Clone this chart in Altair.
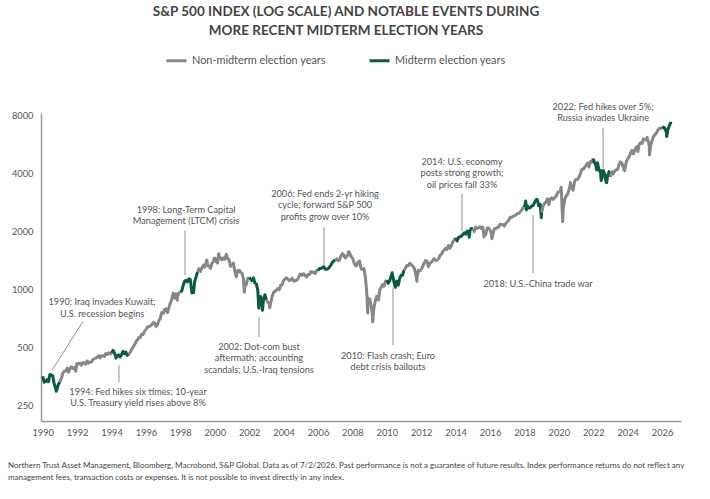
import altair as alt
import pandas as pd

# ---------------- data (S&P 500 month-end closes) ----------------
start_close = 353.4  # end of 1989

y1990 = [329.1, 331.9, 339.9, 330.8, 361.2, 358.0, 356.2, 322.6, 306.1, 304.0, 322.2, 330.2]
y1991 = [343.9, 367.1, 375.2, 375.3, 389.8, 371.2, 387.8, 395.4, 387.9, 392.5, 375.2, 417.1]
y1992 = [408.8, 412.7, 403.7, 414.9, 415.4, 408.1, 424.2, 414.0, 417.8, 418.7, 431.4, 435.7]
y1993 = [438.8, 443.4, 451.7, 440.2, 450.2, 451.0, 448.1, 463.6, 458.9, 467.8, 461.8, 466.5]
y1994 = [481.6, 467.1, 445.8, 450.9, 456.5, 444.3, 458.3, 475.5, 462.7, 472.4, 454.0, 459.3]
y1995 = [470.4, 487.4, 500.7, 514.7, 533.4, 544.8, 562.1, 561.9, 584.4, 581.5, 605.4, 615.9]
y1996 = [636.0, 640.4, 645.5, 654.2, 669.1, 670.6, 639.9, 652.0, 687.3, 705.3, 757.0, 740.7]
y1997 = [786.2, 790.8, 757.1, 801.3, 848.3, 885.1, 954.3, 899.5, 947.3, 914.6, 955.4, 970.4]
y1998 = [980.3, 1049.3, 1101.8, 1111.8, 1090.8, 1133.8, 1120.7, 957.3, 1017.0, 1098.7, 1163.6, 1229.2]
y1999 = [1279.6, 1238.3, 1286.4, 1335.2, 1301.8, 1372.7, 1328.7, 1320.4, 1282.7, 1362.9, 1388.9, 1469.3]
y2000 = [1394.5, 1366.4, 1498.6, 1452.4, 1420.6, 1454.6, 1430.8, 1517.7, 1436.5, 1429.4, 1315.2, 1320.3]
y2001 = [1366.0, 1239.9, 1160.3, 1249.5, 1255.8, 1224.4, 1211.2, 1133.6, 1040.9, 1059.8, 1139.5, 1148.1]
y2002 = [1130.2, 1106.7, 1147.4, 1076.9, 1067.1, 989.8, 911.6, 916.1, 815.3, 885.8, 936.3, 879.8]
y2003 = [855.7, 841.2, 848.2, 916.9, 963.6, 974.5, 990.3, 1008.0, 996.0, 1050.7, 1058.2, 1111.9]
y2004 = [1131.1, 1144.9, 1126.2, 1107.3, 1120.7, 1140.8, 1101.7, 1104.2, 1114.6, 1130.2, 1173.8, 1211.9]
y2005 = [1181.3, 1203.6, 1180.6, 1156.9, 1191.5, 1191.3, 1234.2, 1220.3, 1228.8, 1207.0, 1249.5, 1248.3]
y2006 = [1280.1, 1280.7, 1294.8, 1310.6, 1270.1, 1270.2, 1276.7, 1303.8, 1335.9, 1377.9, 1400.6, 1418.3]
y2007 = [1438.2, 1406.8, 1420.9, 1482.4, 1530.6, 1503.4, 1455.3, 1474.0, 1526.8, 1549.4, 1481.1, 1468.4]
y2008 = [1378.6, 1330.6, 1322.7, 1385.6, 1400.4, 1280.0, 1267.4, 1282.8, 1166.4, 968.8, 896.2, 903.3]
y2009 = [825.9, 735.1, 797.9, 872.8, 919.1, 919.3, 987.5, 1020.6, 1057.1, 1036.2, 1095.6, 1115.1]
y2010 = [1073.9, 1104.5, 1169.4, 1186.7, 1089.4, 1030.7, 1101.6, 1049.3, 1141.2, 1183.3, 1180.6, 1257.6]
y2011 = [1286.1, 1327.2, 1325.8, 1363.6, 1345.2, 1320.6, 1292.3, 1218.9, 1131.4, 1253.3, 1247.0, 1257.6]
y2012 = [1312.4, 1365.7, 1408.5, 1397.9, 1310.3, 1362.2, 1379.3, 1406.6, 1440.7, 1412.2, 1416.2, 1426.2]
y2013 = [1498.1, 1514.7, 1569.2, 1597.6, 1630.7, 1606.3, 1685.7, 1633.0, 1681.6, 1756.5, 1805.8, 1848.4]
y2014 = [1782.6, 1859.5, 1872.3, 1884.0, 1923.6, 1960.2, 1930.7, 2003.4, 1972.3, 2018.1, 2067.6, 2058.9]
y2015 = [1995.0, 2104.5, 2067.9, 2085.5, 2107.4, 2063.1, 2103.8, 1972.2, 1920.0, 2079.4, 2080.4, 2043.9]
y2016 = [1940.2, 1932.2, 2059.7, 2065.3, 2097.0, 2098.9, 2173.6, 2171.0, 2168.3, 2126.2, 2198.8, 2238.8]
y2017 = [2278.9, 2363.6, 2362.7, 2384.2, 2411.8, 2423.4, 2470.3, 2471.7, 2519.4, 2575.3, 2647.6, 2673.6]
y2018 = [2823.8, 2713.8, 2640.9, 2648.1, 2705.3, 2718.4, 2816.3, 2901.5, 2914.0, 2711.7, 2760.2, 2506.9]
y2019 = [2704.1, 2784.5, 2834.4, 2945.8, 2752.1, 2941.8, 2980.4, 2926.5, 2976.7, 3037.6, 3141.0, 3230.8]
y2020 = [3225.5, 2954.2, 2584.6, 2912.4, 3044.3, 3100.3, 3271.1, 3500.3, 3363.0, 3270.0, 3621.6, 3756.1]
y2021 = [3714.2, 3811.2, 3972.9, 4181.2, 4204.1, 4297.5, 4395.3, 4522.7, 4307.5, 4605.4, 4567.0, 4766.2]
y2022 = [4515.6, 4373.9, 4530.4, 4131.9, 4132.2, 3785.4, 4130.3, 3955.0, 3585.6, 3872.0, 4080.1, 3839.5]
y2023 = [4076.6, 3970.2, 4109.3, 4169.5, 4179.8, 4450.4, 4589.0, 4507.7, 4288.1, 4193.8, 4567.8, 4769.8]
y2024 = [4845.7, 5096.3, 5254.4, 5035.7, 5277.5, 5460.5, 5522.3, 5648.4, 5762.5, 5705.5, 6032.4, 5881.6]
y2025 = [6040.5, 5954.5, 5611.9, 5569.1, 5911.7, 6205.0, 6339.4, 6460.3, 6688.5, 6840.0, 6849.0, 6845.0]
y2026 = [6940.0, 6850.0, 6500.0, 6700.0, 7050.0, 7300.0]

# intra-month extremes (decimal year, value)
extreme_dates = [1990.78, 1994.09, 1994.26, 1997.82, 1998.77, 1999.54, 2000.23, 2000.67,
                 2001.72, 2002.56, 2002.77, 2003.19, 2007.77, 2008.89, 2009.18, 2009.52,
                 2010.31, 2010.50, 2011.75, 2014.79, 2015.65, 2016.11, 2018.07, 2018.11,
                 2018.72, 2018.98, 2020.13, 2020.22, 2020.67, 2022.18, 2022.46, 2022.78,
                 2023.82, 2024.59, 2025.13, 2025.27, 2026.27, 2026.50]
extreme_values = [295.5, 482.0, 438.9, 877.0, 959.4, 1418.8, 1527.5, 1520.8,
                  965.8, 797.7, 776.8, 800.7, 1565.2, 752.4, 676.5, 879.1,
                  1217.3, 1022.6, 1099.2, 1862.5, 1867.6, 1829.1, 2872.9, 2581.0,
                  2930.8, 2351.1, 3386.2, 2237.4, 3580.8, 4170.7, 3666.8, 3577.0,
                  4117.4, 5186.3, 6144.2, 4982.8, 6200.0, 7400.0]

years = list(range(1990, 2027))
yearly = [y1990, y1991, y1992, y1993, y1994, y1995, y1996, y1997, y1998, y1999,
          y2000, y2001, y2002, y2003, y2004, y2005, y2006, y2007, y2008, y2009,
          y2010, y2011, y2012, y2013, y2014, y2015, y2016, y2017, y2018, y2019,
          y2020, y2021, y2022, y2023, y2024, y2025, y2026]

x_tick_years = list(range(1990, 2027, 2))
y_tick_values = [250, 500, 1000, 2000, 4000, 8000]

cat_mid = "Midterm election years"
cat_non = "Non-midterm election years"

# annotations (decimal year, index level)
ann_text = [
    "1990: Iraq invades Kuwait;\nU.S. recession begins",
    "1994: Fed hikes six times; 10-year\nU.S. Treasury yield rises above 8%",
    "1998: Long-Term Capital\nManagement (LTCM) crisis",
    "2002: Dot-com bust\naftermath; accounting\nscandals; U.S.-Iraq tensions",
    "2006: Fed ends 2-yr hiking\ncycle; forward S&P 500\nprofits grow over 10%",
    "2010: Flash crash; Euro\ndebt crisis bailouts",
    "2014: U.S. economy\nposts strong growth;\noil prices fall 33%",
    "2018: U.S.-China trade war",
    "2022: Fed hikes over 5%;\nRussia invades Ukraine",
]
ann_x = [1993.45, 1995.54, 1998.33, 2002.57, 2006.41, 2010.07, 2014.37, 2018.79, 2022.57]
ann_y = [830, 284, 2498, 486, 3025, 436, 4434, 1032, 8556]

lead_x1 = [1992.34, 1994.43, 1998.27, 2002.57, 2006.35, 2010.36, 2014.37, 2018.50, 2022.57]
lead_x2 = [1990.54, 1994.43, 1998.27, 2002.57, 2006.35, 2010.36, 2014.37, 2018.50, 2022.57]
lead_y1 = [681, 403, 2022, 715, 2096, 1023, 3146, 2419, 6841]
lead_y2 = [379, 329, 1181, 563, 1331, 512, 1998, 1209, 4242]

footnote_1 = ("Northern Trust Asset Management, Bloomberg, Macrobond, S&P Global. Data as of 7/2/2026. "
              "Past performance is not a guarantee of future results. Index performance returns do not reflect any")
footnote_2 = ("management fees, transaction costs or expenses. It is not possible to invest directly in any index.")

# ---------------- build tables ----------------
pts = [(1990.0, start_close)]
for yr, vals in zip(years, yearly):
    for m, v in enumerate(vals, 1):
        pts.append((yr + m / 12.0, v))
pts += list(zip(extreme_dates, extreme_values))
pts.sort()

rows = []
for yr in years:
    cat = cat_mid if (yr - 1990) % 4 == 0 else cat_non
    for t, v in pts:
        if yr <= t <= yr + 1:
            rows.append({"t": t, "v": v, "seg": yr, "cat": cat})
line_df = pd.DataFrame(rows)

ann_df = pd.DataFrame({"t": ann_x, "v": ann_y, "text": ann_text})
lead_df = pd.DataFrame({"t": lead_x1, "t2": lead_x2, "v": lead_y1, "v2": lead_y2})
foot_df = pd.DataFrame({"a": [footnote_1], "b": [footnote_2]})

FONT = "Lato"
GREEN = "#0b5a44"

xscale = alt.Scale(domain=[1989.9, 2027.1], nice=False, zero=False)
yscale = alt.Scale(type="log", domain=[207, 8220], nice=False)

x_axis = alt.Axis(values=x_tick_years, format="d", title=None, ticks=False, grid=False,
                  labelPadding=7, labelFont=FONT, labelFontSize=9.3, labelColor="#555",
                  domainColor="#9a9a9a", domainWidth=1.5, labelFlush=False,
                  labelOverlap=False, labelBound=False)
y_axis = alt.Axis(values=y_tick_values, format="d", title=None, ticks=False, grid=False,
                  labelPadding=8, labelFont=FONT, labelFontSize=9.3, labelColor="#555",
                  domainColor="#9a9a9a", domainWidth=1.5, labelOverlap=False)

lines = alt.Chart(line_df).mark_line(strokeWidth=3, strokeJoin="round").encode(
    x=alt.X("t:Q", scale=xscale, axis=x_axis),
    y=alt.Y("v:Q", scale=yscale, axis=y_axis),
    color=alt.Color("cat:N", scale=alt.Scale(domain=[cat_non, cat_mid], range=["#878787", GREEN]),
                    legend=alt.Legend(title=None, orient="none", legendX=124, legendY=-64,
                                      direction="horizontal", symbolType="stroke",
                                      symbolStrokeWidth=3, symbolSize=400, labelFont=FONT,
                                      labelFontSize=10.9, labelColor="#555", columnPadding=37,
                                      labelOffset=4)),
    detail="seg:N",
    order="t:Q",
)

leaders = alt.Chart(lead_df).mark_rule(color="#8f8f8f", strokeWidth=1).encode(
    x=alt.X("t:Q", axis=x_axis), x2="t2:Q",
    y=alt.Y("v:Q", axis=y_axis), y2="v2:Q"
)

labels = alt.Chart(ann_df).mark_text(
    font=FONT, fontSize=9.2, color="#555", align="center", baseline="alphabetic",
    lineBreak="\n", lineHeight=11.8
).encode(x=alt.X("t:Q", axis=x_axis), y=alt.Y("v:Q", axis=y_axis), text="text:N")

foot1 = alt.Chart(foot_df).mark_text(
    font=FONT, fontSize=8.0, color="#444", align="left", baseline="middle"
).encode(x=alt.value(-33), y=alt.value(353), text="a:N")

foot2 = alt.Chart(foot_df).mark_text(
    font=FONT, fontSize=8.0, color="#444", align="left", baseline="middle"
).encode(x=alt.value(-33), y=alt.value(365), text="b:N")

chart = alt.layer(lines, leaders, labels, foot1, foot2).properties(
    width=640, height=308,
    autosize=alt.AutoSizeParams(type="none"),
    padding={"left": 41, "top": 113, "right": 29, "bottom": 78},
    title=alt.TitleParams(
        text=["S&P 500 INDEX (LOG SCALE) AND NOTABLE EVENTS DURING",
              "MORE RECENT MIDTERM ELECTION YEARS"],
        font=FONT, fontSize=13.5, fontWeight="bold", color="#444", anchor="middle",
        lineHeight=19, offset=12, dx=-15,
    ),
).configure_view(stroke=None)

chart.save("out.html", embed_options={"renderer": "svg", "actions": False})
